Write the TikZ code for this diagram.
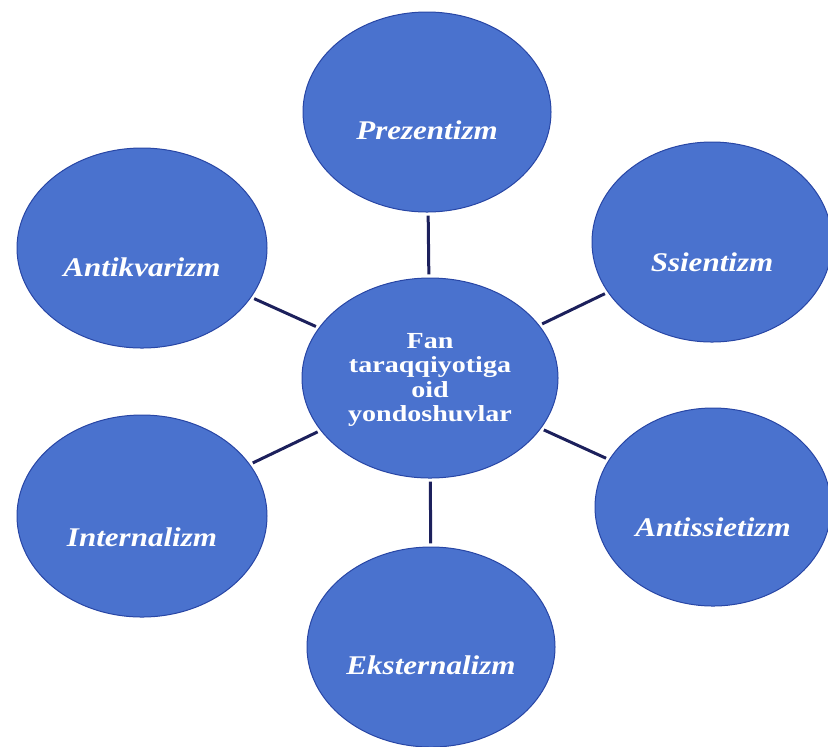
\documentclass[tikz,border=0pt]{standalone}
\usepackage{fontspec}
\setmainfont{Liberation Serif}
\newfontfamily\lblfont[FakeStretch=1.15]{Liberation Serif}
\newfontfamily\ctrfont[FakeStretch=1.22]{Liberation Serif}
\usetikzlibrary{shapes.geometric}
\definecolor{ellfill}{RGB}{74,114,206}
\definecolor{elldraw}{RGB}{40,70,165}
\definecolor{linkcol}{RGB}{28,32,92}
\tikzset{
  bub/.style={ellipse, fill=ellfill, draw=elldraw, line width=0.5pt, inner sep=0pt, outer sep=0pt},
  lbl/.style={text=white, font=\lblfont\fontsize{13.5}{15}\selectfont\bfseries\itshape},
  ctr/.style={text=white, align=center, font=\ctrfont\fontsize{11.5}{12.2}\selectfont\bfseries},
  link/.style={draw=linkcol, line width=1.5pt, shorten <=1.8pt, shorten >=1.8pt}
}
\begin{document}
\begin{tikzpicture}[x=0.5pt,y=-0.5pt]
\useasboundingbox (0,0) rectangle (828,746);
\node[bub, minimum width=124pt, minimum height=100pt] (p) at (427,112) {};
\node[bub, minimum width=125pt, minimum height=100pt] (ak) at (142,248) {};
\node[bub, minimum width=120pt, minimum height=100pt] (s) at (712,242) {};
\node[bub, minimum width=128pt, minimum height=100pt] (c) at (430,378) {};
\node[bub, minimum width=125pt, minimum height=101pt] (in) at (142,516) {};
\node[bub, minimum width=118pt, minimum height=99pt] (as) at (713,507) {};
\node[bub, minimum width=124pt, minimum height=100pt] (e) at (431,647) {};

\node[lbl] (tp) at (427,130) {Prezentizm};
\node[lbl] (tak) at (142,267) {Antikvarizm};
\node[lbl] (ts) at (712,262) {Ssientizm};
\node[lbl] (tin) at (142,537) {Internalizm};
\node[lbl] (tas) at (713,527) {Antissietizm};
\node[lbl] (te) at (431,665) {Eksternalizm};
\node[ctr] (tc) at (430,380) {Fan\\taraqqiyotiga\\oid\\yondoshuvlar};

\draw[link] (c) -- (p);
\draw[link] (c) -- (ak);
\draw[link] (c) -- (s);
\draw[link] (c) -- (in);
\draw[link] (c) -- (as);
\draw[link] (c) -- (e);
\end{tikzpicture}
\end{document}
